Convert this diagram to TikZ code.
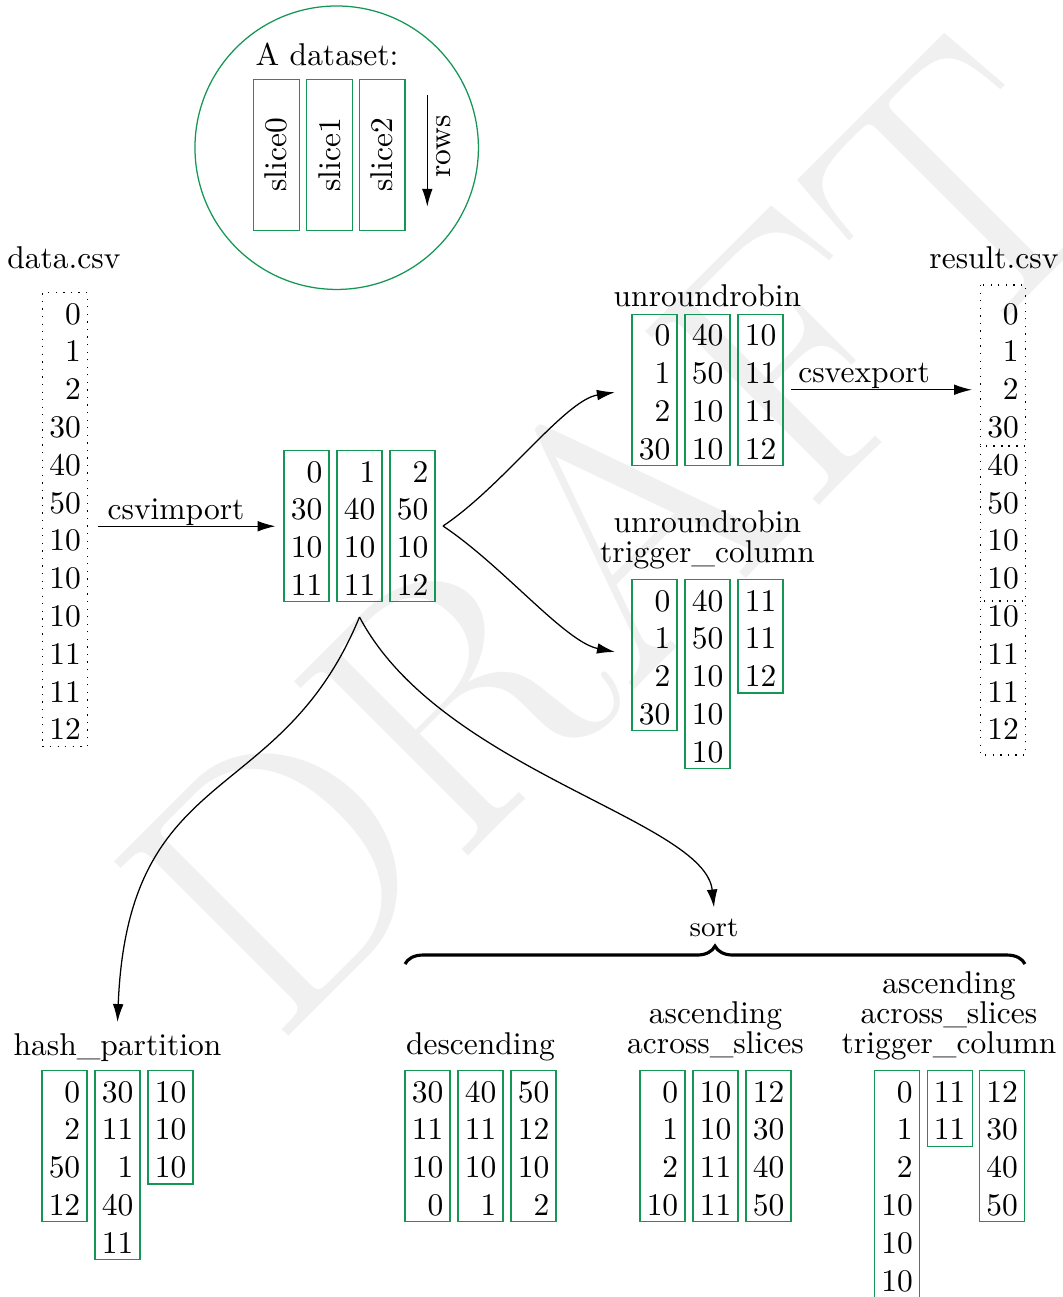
\documentclass[tikz,border=0pt]{standalone}
\usepackage{array}
\usetikzlibrary{arrows.meta,decorations.pathreplacing,calc}

\definecolor{slicegreen}{RGB}{20,150,85}
\definecolor{wmgray}{gray}{0.94}

% a column of right-aligned numbers, 12pt per row (10pt above, 2pt below the baseline)
\newcommand\rowstrut{\rule[-2pt]{0pt}{12pt}}
\newcommand\numcol[1]{{\renewcommand\arraystretch{0}\setlength\extrarowheight{0pt}%
  \begin{tabular}{@{}>{\rowstrut}r@{}}#1\end{tabular}}}
\newcommand\lblfont{\fontsize{10}{9.5}\selectfont}

\begin{document}
\begin{tikzpicture}[x=0.3175pt, y=-0.3175pt,
  col/.style={draw=slicegreen, line width=0.4pt, inner xsep=2.15pt, inner ysep=0pt,
              anchor=north, minimum width=14.3pt},
  csvcol/.style={col, draw=black, dotted},
  slicebox/.style={draw=slicegreen, rotate=90, minimum width=48pt, minimum height=14.5pt, inner sep=0pt},
  lbl/.style={anchor=south, align=center, text depth=0pt, font=\lblfont},
  baselbl/.style={anchor=base},
  edgelbl/.style={anchor=base, inner sep=0pt, yshift=2.2pt},
  conn/.style={-{Latex[length=5.7pt,width=3.4pt]}},
]
\useasboundingbox (0,0) rectangle (1063,1297);

% background watermark
\node[rotate=45, anchor=base west, inner sep=0pt, text=wmgray,
      font=\fontsize{114.6}{114.6}\selectfont] (wm) at (275,1050) {DRAFT};

% what a dataset looks like
\node[circle, draw=slicegreen, minimum size=90pt, inner sep=0pt] (ds) at (336.7,147.7) {};
\node[anchor=base west, inner sep=0pt] (dslbl) at (255,65) {A dataset:};
\node[slicebox] (s0) at (276.3,155) {slice0};
\node[slicebox] (s1) at (329.3,155) {slice1};
\node[slicebox] (s2) at (382.2,155) {slice2};
\coordinate (rowsA) at (427.3,95);
\coordinate (rowsB) at (427.3,206.7);
\draw[conn] (rowsA) -- (rowsB);
\node[rotate=90, inner sep=0pt] (rowslbl) at (444,146.7) {rows};

% input file
\node[csvcol] (data) at (65,292) {\numcol{0\\1\\2\\30\\40\\50\\10\\10\\10\\11\\11\\12}};
\node[baselbl] (datalbl) at (64,268) {data.csv};

% imported dataset
\node[col] (in0) at (306.5,450) {\numcol{0\\30\\10\\11}};
\node[col] (in1) at (359.5,450) {\numcol{1\\40\\10\\11}};
\node[col] (in2) at (412.5,450) {\numcol{2\\50\\10\\12}};
\draw[conn, shorten <=3pt, shorten >=2.5pt] (data.east |- in0.west) --
  node[edgelbl, pos=0.45] (imlbl) {csvimport} (in0.west);

% unroundrobin
\node[baselbl] (urlbl) at (707.5,306) {unroundrobin};
\node[col] (ur0) at (654.5,313.5) {\numcol{0\\1\\2\\30}};
\node[col] (ur1) at (707.5,313.5) {\numcol{40\\50\\10\\10}};
\node[col] (ur2) at (760.5,313.5) {\numcol{10\\11\\11\\12}};

% unroundrobin, trigger_column
\node[lbl] (urtlbl) at (707.5,573.8) {unroundrobin\\trigger\_column};
\node[col] (urt0) at (654.5,579) {\numcol{0\\1\\2\\30}};
\node[col] (urt1) at (707.5,579) {\numcol{40\\50\\10\\10\\10}};
\node[col] (urt2) at (760.5,579) {\numcol{11\\11\\12}};

% output file
\node[col, draw=none] (res) at (1003,292) {\numcol{0\\1\\2\\30\\40\\50\\10\\10\\10\\11\\11\\12}};
\node[baselbl] (reslbl) at (994,268) {result.csv};
\draw[dotted] (980.5,285) rectangle (1025.5,446);
\draw[dotted] (980.5,446) rectangle (1025.5,601);
\draw[dotted] (980.5,601) rectangle (1025.5,755);
\draw[conn, shorten <=2.4pt, shorten >=2.5pt] (ur2.east) --
  node[edgelbl, pos=0.41] (exlbl) {csvexport} (ur2.east -| res.west);

% fan-out points
\coordinate (fanR) at (443,526);
\coordinate (fanD) at (359.5,617);
\draw[conn, shorten >=5.3pt] (fanR) .. controls (503,486) and (565,400) .. (ur0.west);
\draw[conn, shorten >=5.3pt] (fanR) .. controls (503,566) and (565,642) .. (urt0.west);

% hash_partition
\node[baselbl] (hplbl) at (117.5,1055) {hash\_partition};
\node[col] (hp0) at (64.5,1070) {\numcol{0\\2\\50\\12}};
\node[col] (hp1) at (117.5,1070) {\numcol{30\\11\\1\\40\\11}};
\node[col] (hp2) at (170.5,1070) {\numcol{10\\10\\10}};

% sort variants
\node[baselbl] (delbl) at (480.5,1054) {descending};
\node[col] (de0) at (427.5,1070) {\numcol{30\\11\\10\\0}};
\node[col] (de1) at (480.5,1070) {\numcol{40\\11\\10\\1}};
\node[col] (de2) at (533.5,1070) {\numcol{50\\12\\10\\2}};

\node[lbl] (aslbl) at (715.5,1064.5) {ascending\\across\_slices};
\node[col] (as0) at (662.5,1070) {\numcol{0\\1\\2\\10}};
\node[col] (as1) at (715.5,1070) {\numcol{10\\10\\11\\11}};
\node[col] (as2) at (768.5,1070) {\numcol{12\\30\\40\\50}};

\node[lbl] (atlbl) at (949,1064.5) {ascending\\across\_slices\\trigger\_column};
\node[col] (at0) at (897,1070) {\numcol{0\\1\\2\\10\\10\\10}};
\node[col] (at1) at (949.7,1070) {\numcol{11\\11}};
\node[col] (at2) at (1002.2,1070) {\numcol{12\\30\\40\\50}};

% brace over the sort variants
\coordinate (braceL) at (405,964);
\coordinate (braceR) at (1025,964);
\draw[decorate, decoration={brace, amplitude=5.7pt}, line width=1pt] (braceL) -- (braceR);
\node[anchor=base, font=\small] (sortlbl) at (714,936) {sort};

\draw[conn] (fanD) .. controls (280,810) and (128,760) .. (hplbl.north);
\draw[conn] (fanD) .. controls (440,770) and (705,820) .. (sortlbl.north);
\end{tikzpicture}
\end{document}
